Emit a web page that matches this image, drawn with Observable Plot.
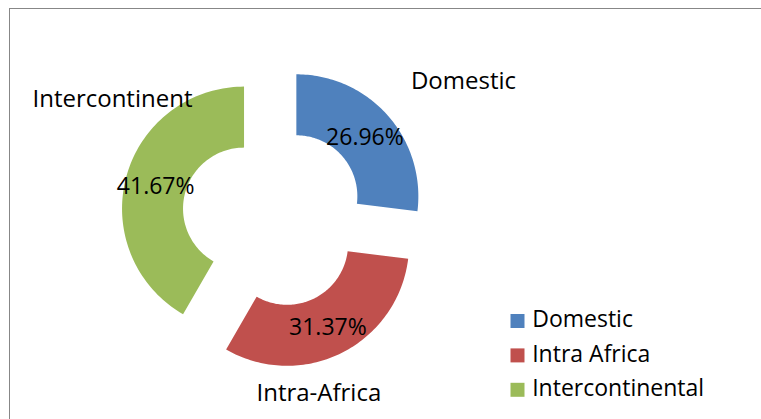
<!DOCTYPE html>
<html>
<head>
<meta charset="utf-8">
<script src="https://cdn.jsdelivr.net/npm/d3@7"></script>
<script src="https://cdn.jsdelivr.net/npm/@observablehq/plot@0.6"></script>
<style>
  html, body { margin: 0; padding: 0; background: #fff; }
  #wrap { position: relative; width: 761px; height: 419px; overflow: hidden; }
  #border { position: absolute; left: 9px; top: 8px; width: 800px; height: 500px;
            border-top: 1px solid #878787; border-left: 1px solid #878787; pointer-events: none; }
</style>
</head>
<body>
<div id="wrap"><div id="border"></div></div>
<script>
// ---- data ----
const categories = ["Domestic", "Intra Africa", "Intercontinental"];
const values = [26.96, 31.37, 41.67];
const sliceLabels = ["Domestic", "Intra-Africa", "Intercontinent"];

// ---- styles / layout ----
const colors = ["#4F81BD", "#C0504D", "#9BBB59"];
const W = 761, H = 419;
const cx = 273, cy = 216, R = 122, r0 = 61, explode = 30.5;
const font = "Open Sans";

const rows = categories.map((c, i) => ({category: c, value: values[i], label: sliceLabels[i]}));
const arcs = d3.pie().sort(null).value(d => d.value)(rows);

// polygon points for each ring slice, computed from pie angles
const poly = [];
const centers = [];
arcs.forEach(a => {
  const mid = (a.startAngle + a.endAngle) / 2;
  const ox = cx + explode * Math.sin(mid), oy = cy - explode * Math.cos(mid);
  centers.push({category: a.data.category, label: a.data.label, value: a.data.value, mid, ox, oy});
  const n = 90;
  for (let k = 0; k <= n; k++) {
    const t = a.startAngle + (a.endAngle - a.startAngle) * k / n;
    poly.push({category: a.data.category, x: ox + R * Math.sin(t), y: oy - R * Math.cos(t)});
  }
  for (let k = n; k >= 0; k--) {
    const t = a.startAngle + (a.endAngle - a.startAngle) * k / n;
    poly.push({category: a.data.category, x: ox + r0 * Math.sin(t), y: oy - r0 * Math.cos(t)});
  }
});

const rm = (R + r0) / 2;
// outside category label placement (layout tweaks, per slice order)
const outerDist = [203, 153, 171];
const outerAngleShift = [6.9, 14.5, 24.7]; // degrees
const legendX = 517, legendY0 = 320.5, legendStep = 34.4;

const chart = Plot.plot({
  width: W, height: H,
  margin: 0,
  style: {fontFamily: font, background: "transparent", color: "#000", overflow: "visible"},
  x: {domain: [0, W], range: [0, W], axis: null},
  y: {domain: [0, H], range: [0, H], axis: null},
  color: {domain: categories, range: colors},
  marks: [
    Plot.line(poly, {x: "x", y: "y", z: "category", fill: "category", stroke: null, curve: "linear"}),
    // percentage labels in ring
    Plot.text(centers, {
      x: d => d.ox + rm * Math.sin(d.mid),
      y: d => d.oy - rm * Math.cos(d.mid),
      text: d => d.value.toFixed(2) + "%",
      fontSize: 23, fill: "#000", dy: 2
    }),
    // outside category labels
    Plot.text(centers, {
      x: (d, i) => d.ox + outerDist[i] * Math.sin(d.mid + outerAngleShift[i] * Math.PI / 180 * (i === 1 ? 1 : 1)),
      y: (d, i) => d.oy - outerDist[i] * Math.cos(d.mid + outerAngleShift[i] * Math.PI / 180),
      text: "label",
      fontSize: 24, fill: "#000"
    }),
    // legend
    Plot.dot(categories, {
      x: () => legendX, y: (d, i) => legendY0 + i * legendStep,
      symbol: "square", r: 7.9, fill: d => d, stroke: null
    }),
    Plot.text(categories, {
      x: () => legendX + 14.7, y: (d, i) => legendY0 - 1 + i * legendStep,
      text: d => d, textAnchor: "start", fontSize: 23, fill: "#000"
    })
  ]
});
document.getElementById("wrap").prepend(chart);
chart.style.position = "absolute";
chart.style.left = "0px";
chart.style.top = "0px";
</script>
</body>
</html>
